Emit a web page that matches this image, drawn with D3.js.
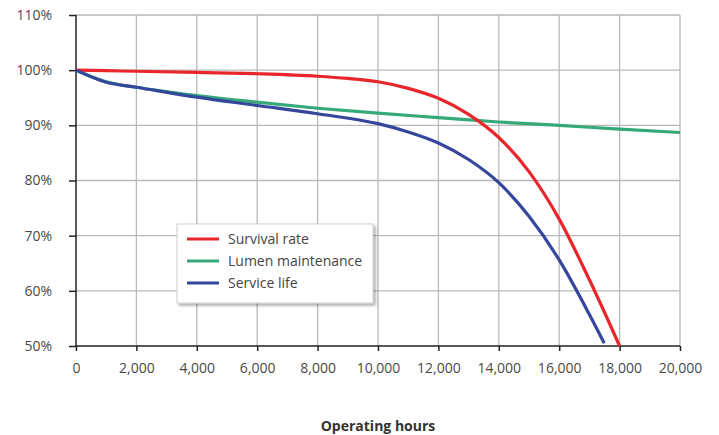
<!DOCTYPE html>
<html>
<head>
<meta charset="utf-8">
<script src="https://cdn.jsdelivr.net/npm/d3@7"></script>
<style>
  html, body { margin: 0; padding: 0; background: #fff; }
  svg { display: block; font-family: "Open Sans", "Noto Sans", sans-serif; }
</style>
</head>
<body>
<svg id="chart" width="719" height="435"></svg>
<script>
// ---- data ----
const xTicks = [0, 2000, 4000, 6000, 8000, 10000, 12000, 14000, 16000, 18000, 20000];
const yTicks = [50, 60, 70, 80, 90, 100, 110];

const survivalHours = [0, 1000, 2000, 4000, 6000, 8000, 9000, 10000, 11000, 12000, 13000, 14000, 15000, 16000, 17000, 18000];
const survivalRate  = [100, 99.9, 99.8, 99.6, 99.35, 98.9, 98.5, 97.9, 96.7, 94.9, 92.0, 87.8, 81.6, 73.0, 62.0, 50];

const lumenHours = [0, 1000, 2000, 4000, 6000, 8000, 10000, 12000, 14000, 16000, 18000, 20000];
const lumenMaint = [100, 97.9, 96.9, 95.4, 94.2, 93.1, 92.2, 91.4, 90.6, 90.0, 89.3, 88.7];

const serviceHours = [0, 1000, 2000, 4000, 6000, 8000, 10000, 11000, 12000, 13000, 14000, 15000, 16000, 17000, 17490];
const serviceLife  = [100, 97.8, 96.9, 95.1, 93.6, 92.1, 90.3, 88.8, 86.8, 83.8, 79.6, 73.5, 65.6, 55.7, 50.5];

const seriesNames  = ["Survival rate", "Lumen maintenance", "Service life"];
const seriesColors = ["#e8262b", "#35a978", "#34479c"];
const xTitle = "Operating hours";

// ---- build ----
const series = [
  { name: seriesNames[0], color: seriesColors[0], pts: survivalHours.map((h, i) => [h, survivalRate[i]]) },
  { name: seriesNames[1], color: seriesColors[1], pts: lumenHours.map((h, i) => [h, lumenMaint[i]]) },
  { name: seriesNames[2], color: seriesColors[2], pts: serviceHours.map((h, i) => [h, serviceLife[i]]) }
];

const svg = d3.select("#chart");
const x = d3.scaleLinear().domain([0, 20000]).range([76, 680]);
const y = d3.scaleLinear().domain([50, 110]).range([346, 15]);

// grid
const grid = svg.append("g");
grid.selectAll("line.v").data(xTicks.slice(1)).join("line")
  .attr("x1", d => x(d)).attr("x2", d => x(d))
  .attr("y1", y(110)).attr("y2", y(50))
  .attr("stroke", "#b9b9b9").attr("stroke-width", 1.3);
grid.selectAll("line.h").data(yTicks.slice(1)).join("line")
  .attr("x1", x(0)).attr("x2", x(20000))
  .attr("y1", d => y(d)).attr("y2", d => y(d))
  .attr("stroke", "#b9b9b9").attr("stroke-width", 1.3);

// axes
const xAxis = d3.axisBottom(x).tickValues(xTicks).tickSize(5).tickPadding(12)
  .tickFormat(d => d3.format(",")(d));
const gx = svg.append("g").attr("transform", `translate(0,${y(50)})`).call(xAxis);
const yAxis = d3.axisLeft(y).tickValues(yTicks).tickSize(7).tickPadding(17)
  .tickFormat(d => d + "%");
const gy = svg.append("g").attr("transform", `translate(${x(0)},0)`).call(yAxis);

[gx, gy].forEach(g => {
  g.select(".domain").attr("stroke", "#222").attr("stroke-width", 1.5);
  g.selectAll(".tick line").attr("stroke", "#222").attr("stroke-width", 1.5);
  g.selectAll(".tick text").attr("fill", "#4a4a4a").style("font-size", "14px")
    .style("font-family", "'Open Sans', 'Noto Sans', sans-serif");
});
gy.select(".domain").attr("d", `M0,${y(110)}V${y(50)}`);
gx.select(".domain").attr("d", `M${x(0)},0H${x(20000)}`);

// lines
const line = d3.line().x(d => x(d[0])).y(d => y(d[1])).curve(d3.curveMonotoneX);
svg.append("g").selectAll("path").data([series[1], series[0], series[2]]).join("path")
  .attr("d", d => line(d.pts))
  .attr("fill", "none")
  .attr("stroke", d => d.color)
  .attr("stroke-width", 3.2)
  .attr("stroke-linecap", "butt");

// x title
svg.append("text").attr("x", 378).attr("y", 431)
  .attr("text-anchor", "middle")
  .style("font-size", "14px").style("font-weight", "bold")
  .attr("fill", "#333").text(xTitle);

// legend
const defs = svg.append("defs");
const f = defs.append("filter").attr("id", "shadow").attr("x", "-10%").attr("y", "-10%").attr("width", "130%").attr("height", "140%");
f.append("feDropShadow").attr("dx", 2).attr("dy", 2).attr("stdDeviation", 1.5).attr("flood-color", "#000").attr("flood-opacity", 0.35);

const lg = svg.append("g").attr("transform", "translate(177,224)");
lg.append("rect").attr("width", 196).attr("height", 79)
  .attr("fill", "#fff").attr("stroke", "#cfcfcf").attr("stroke-width", 1)
  .attr("filter", "url(#shadow)");
const rows = lg.selectAll("g.row").data(series).join("g")
  .attr("transform", (d, i) => `translate(0,${15 + i * 22})`);
rows.append("line").attr("x1", 10).attr("x2", 42).attr("y1", 0).attr("y2", 0)
  .attr("stroke", d => d.color).attr("stroke-width", 3);
rows.append("text").attr("x", 51).attr("y", 0).attr("dy", "0.35em")
  .style("font-size", "14px").attr("fill", "#444").text(d => d.name);
</script>
</body>
</html>
